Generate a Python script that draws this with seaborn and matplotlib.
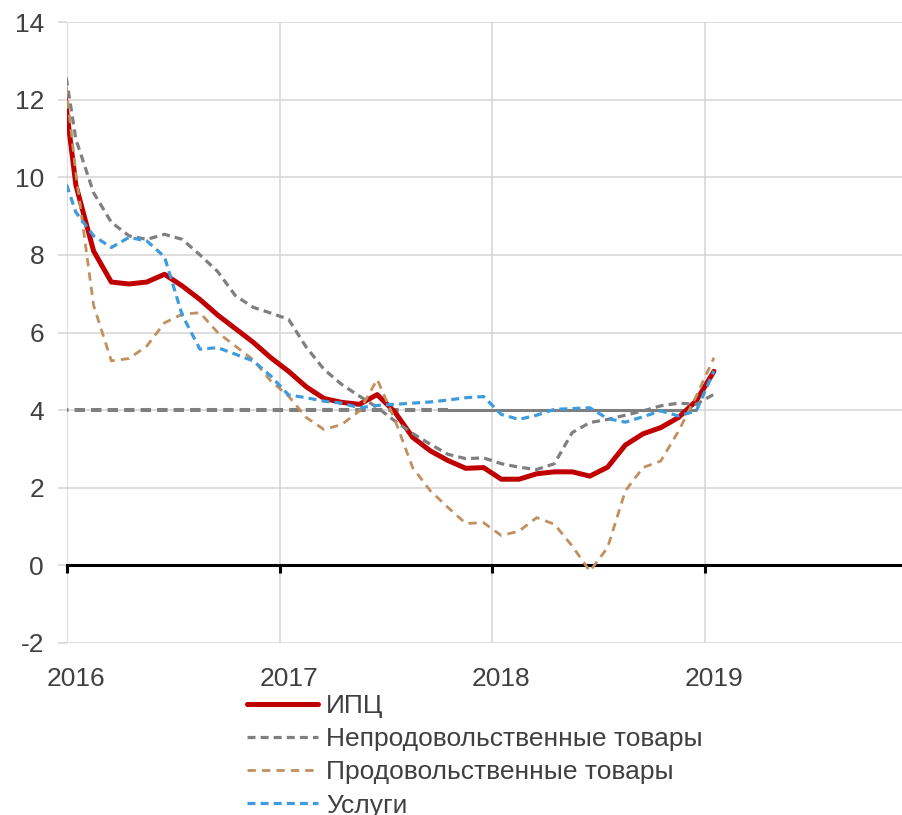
import numpy as np
import pandas as pd
import matplotlib
matplotlib.use("Agg")
import matplotlib.pyplot as plt
import seaborn as sns

# monthly points, Dec 2015 .. Jan 2019 (points sit in the middle of each month)
months = np.arange(-1, 37)
x = 2016 + (months + 0.5) / 12

cpi = [13.5, 9.8, 8.1, 7.3, 7.25, 7.3, 7.5, 7.2, 6.85, 6.45, 6.1, 5.75, 5.35,
       5.0, 4.6, 4.3, 4.2, 4.15, 4.4, 3.95, 3.3, 2.95, 2.7, 2.5, 2.52,
       2.22, 2.22, 2.36, 2.41, 2.41, 2.3, 2.53, 3.1, 3.39, 3.55, 3.81, 4.24, 5.0]
nonfood = [13.9, 10.98, 9.6, 8.84, 8.49, 8.4, 8.53, 8.4, 8.0, 7.57, 6.95, 6.65, 6.5,
           6.34, 5.62, 5.05, 4.66, 4.36, 4.07, 3.72, 3.4, 3.12, 2.86, 2.75, 2.77,
           2.62, 2.53, 2.47, 2.62, 3.42, 3.68, 3.76, 3.87, 3.98, 4.11, 4.18, 4.15, 4.41]
food = [14.2, 10.1, 6.7, 5.27, 5.33, 5.65, 6.25, 6.47, 6.51, 6.0, 5.65, 5.3, 4.75,
        4.36, 3.81, 3.5, 3.63, 3.98, 4.79, 3.75, 2.52, 1.92, 1.49, 1.08, 1.1,
        0.77, 0.88, 1.23, 1.06, 0.5, -0.15, 0.46, 1.92, 2.52, 2.69, 3.46, 4.36, 5.35]
services = [10.45, 9.1, 8.49, 8.19, 8.45, 8.36, 7.95, 6.45, 5.57, 5.61, 5.44, 5.27, 4.88,
            4.39, 4.32, 4.23, 4.18, 4.06, 4.12, 4.15, 4.18, 4.21, 4.26, 4.32, 4.35,
            3.89, 3.76, 3.87, 4.02, 4.04, 4.06, 3.78, 3.69, 3.83, 3.98, 3.85, 3.98, 5.01]
target = 4.0
target_dash_end = 22   # Oct 2017: dashed before, solid after
target_solid_end = 36  # Dec 2018

names = ["ИПЦ", "Непродовольственные товары", "Продовольственные товары", "Услуги"]
year_ticks = [2016, 2017, 2018, 2019]

df = pd.DataFrame({"x": x, names[0]: cpi, names[1]: nonfood,
                   names[2]: food, names[3]: services})

sns.set_theme(style="white")
plt.rcParams["font.family"] = ["Liberation Sans", "DejaVu Sans"]
plt.rcParams["axes.unicode_minus"] = False
txt = "#404040"
grid = "#D4D4D4"
fs = 19

fig = plt.figure(figsize=(9.02, 8.15), dpi=100)
ax = fig.add_axes([67 / 902, 1 - 643 / 815, 1 - 67 / 902, (643 - 22) / 815])

# 4% target line
tx = df["x"].values
ax.plot(tx[:target_dash_end + 1], [target] * (target_dash_end + 1), color="#7F7F7F",
        lw=2.9, ls=(0, (2.6, 1.5)), zorder=1.5)
ax.plot(tx[target_dash_end:target_solid_end + 1],
        [target] * (target_solid_end - target_dash_end + 1),
        color="#7F7F7F", lw=2.2, zorder=1.5)

sns.lineplot(data=df, x="x", y=names[0], ax=ax, color="#C00000", lw=3.6,
             label=names[0], zorder=3)
sns.lineplot(data=df, x="x", y=names[1], ax=ax, color="#7F7F7F", lw=2.3,
             ls=(0, (2.5, 1.6)), label=names[1], zorder=3)
sns.lineplot(data=df, x="x", y=names[2], ax=ax, color="#C0905E", lw=2.0,
             ls=(0, (3.0, 2.2)), label=names[2], zorder=3)
sns.lineplot(data=df, x="x", y=names[3], ax=ax, color="#3E9BDE", lw=2.3,
             ls=(0, (2.5, 1.6)), label=names[3], zorder=3)

ax.set_xlim(2016, 2016 + (902 - 67) / 212.7)
ax.set_ylim(-2, 14)
ax.set_yticks(range(-2, 15, 2))
ax.set_xticks(year_ticks)
ax.set_xlabel("")
ax.set_ylabel("")
ax.grid(True, color=grid, lw=1.1)
ax.set_axisbelow(True)

for side in ["left", "right", "top"]:
    ax.spines[side].set_visible(False)
ax.spines["bottom"].set_position(("data", 0))
ax.spines["bottom"].set_color("black")
ax.spines["bottom"].set_linewidth(2.2)
ax.spines["bottom"].set_zorder(2)
ax.tick_params(axis="x", direction="out", length=6, width=2.2, color="black",
               labelbottom=False, bottom=True)
ax.tick_params(axis="y", length=6.5, width=1.1, color=grid, pad=10,
               labelsize=fs, labelcolor=txt, left=True)

# year labels sit under the bottom edge, centred on January
sec = ax.secondary_xaxis(0.0)
sec.set_xticks([y + 0.5 / 12 for y in year_ticks], labels=[str(y) for y in year_ticks])
sec.tick_params(length=0, pad=17, labelsize=fs, labelcolor=txt)
sec.spines["bottom"].set_visible(False)

h, l = ax.get_legend_handles_labels()
ax.get_legend().remove()
fig.legend(h, l, loc="upper left", bbox_to_anchor=(247 / 902, 1 - 694 / 815),
           frameon=False, fontsize=fs, handlelength=2.7, handletextpad=0.3,
           labelspacing=0.35, borderpad=0, borderaxespad=0, labelcolor=txt)

fig.savefig("out.png", dpi=100)
